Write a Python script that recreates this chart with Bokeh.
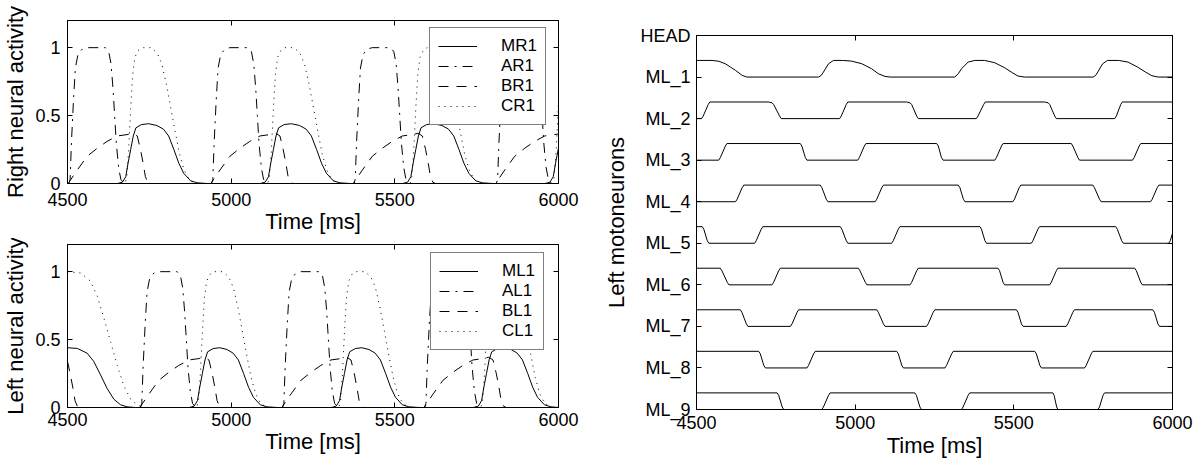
from bokeh.plotting import figure
from bokeh.models import (Range1d, FixedTicker, LinearAxis, Legend, LegendItem,
                          CustomJSTickFormatter, Grid)
from bokeh.layouts import row, column
from bokeh.embed import file_html
from bokeh.resources import INLINE

FONT = "Liberation Sans"
TICK_FS = "18px"
LEGEND_FS = "17px"
LABEL_FS = "22px"

TIME_TICKS = [4500, 5000, 5500, 6000]
ACT_TICKS = [0, 0.5, 1]
MN_TICKS = [0, 1, 2, 3, 4, 5, 6, 7, 8, 9]
MN_LABELS = ["ML_9", "ML_8", "ML_7", "ML_6", "ML_5", "ML_4", "ML_3", "ML_2", "ML_1", "HEAD"]

# ---------------- right neural activity (top-left panel) ----------------
MR1_T = [4500, 4653, 4668, 4678, 4685, 4693, 4701, 4709, 4726, 4748, 4773, 4793, 4809, 4825, 4840, 4855, 4876, 4896, 4927,
         5089, 5104, 5114, 5121, 5129, 5137, 5145, 5162, 5184, 5209, 5229, 5245, 5261, 5276, 5291, 5312, 5332, 5363,
         5524, 5539, 5549, 5556, 5564, 5572, 5580, 5597, 5619, 5644, 5664, 5680, 5696, 5711, 5726, 5747, 5767, 5798,
         5959, 5974, 5984, 5991, 5999, 6000]
MR1_Y = [0, 0, 0.01, 0.05, 0.15, 0.25, 0.35, 0.41, 0.434, 0.44, 0.427, 0.40, 0.35, 0.25, 0.15, 0.075, 0.02, 0.005, 0,
         0, 0.01, 0.05, 0.15, 0.25, 0.35, 0.41, 0.434, 0.44, 0.427, 0.40, 0.35, 0.25, 0.15, 0.075, 0.02, 0.005, 0,
         0, 0.01, 0.05, 0.15, 0.25, 0.35, 0.41, 0.434, 0.44, 0.427, 0.40, 0.35, 0.25, 0.15, 0.075, 0.02, 0.005, 0,
         0, 0.01, 0.05, 0.15, 0.25, 0.26]

AR1_T = [4500, 4504, 4508, 4512, 4518, 4524, 4532, 4545, 4560, 4616, 4626, 4633, 4639, 4644, 4649, 4656, 4663, 4673,
         4940, 4944, 4948, 4954, 4960, 4968, 4981, 4996, 5052, 5062, 5069, 5075, 5080, 5085, 5092, 5099, 5109,
         5375, 5379, 5383, 5389, 5395, 5403, 5416, 5431, 5487, 5497, 5504, 5510, 5515, 5520, 5527, 5534, 5544,
         5810, 5814, 5818, 5824, 5830, 5838, 5851, 5866, 5922, 5932, 5939, 5945, 5950, 5955, 5962, 5969, 5979, 6000]
AR1_Y = [0,
         0, 0.03, 0.3, 0.6, 0.85, 0.95, 0.99, 1, 1, 0.97, 0.88, 0.7, 0.5, 0.3, 0.12, 0.03, 0,
         0, 0.03, 0.3, 0.6, 0.85, 0.95, 0.99, 1, 1, 0.97, 0.88, 0.7, 0.5, 0.3, 0.12, 0.03, 0,
         0, 0.03, 0.3, 0.6, 0.85, 0.95, 0.99, 1, 1, 0.97, 0.88, 0.7, 0.5, 0.3, 0.12, 0.03, 0,
         0, 0.03, 0.3, 0.6, 0.85, 0.95, 0.99, 1, 1, 0.97, 0.88, 0.7, 0.5, 0.3, 0.12, 0.03, 0, 0]

BR1_T = [4500, 4502, 4530, 4560, 4591, 4621, 4652, 4682, 4700, 4713, 4723, 4731, 4738, 4745, 4753,
         4938, 4966, 4996, 5027, 5057, 5088, 5118, 5136, 5149, 5159, 5167, 5174, 5181, 5189,
         5373, 5401, 5431, 5462, 5492, 5523, 5553, 5571, 5584, 5594, 5602, 5609, 5616, 5624,
         5808, 5836, 5866, 5897, 5927, 5958, 5988, 6000]
BR1_Y = [0,
         0, 0.1, 0.2, 0.26, 0.31, 0.35, 0.36, 0.37, 0.35, 0.25, 0.15, 0.05, 0.01, 0,
         0, 0.1, 0.2, 0.26, 0.31, 0.35, 0.36, 0.37, 0.35, 0.25, 0.15, 0.05, 0.01, 0,
         0, 0.1, 0.2, 0.26, 0.31, 0.35, 0.36, 0.37, 0.35, 0.25, 0.15, 0.05, 0.01, 0,
         0, 0.1, 0.2, 0.26, 0.31, 0.35, 0.36, 0.365]

CR1_T = [4500, 4676, 4681, 4687, 4693, 4699, 4706, 4716, 4728, 4756, 4774, 4788, 4803, 4816, 4829, 4842, 4856, 4871, 4891,
         5112, 5117, 5123, 5129, 5135, 5142, 5152, 5164, 5192, 5210, 5224, 5239, 5252, 5265, 5278, 5292, 5307, 5327,
         5547, 5552, 5558, 5564, 5570, 5577, 5587, 5599, 5627, 5645, 5659, 5674, 5687, 5700, 5713, 5727, 5742, 5762,
         5982, 5987, 5993, 5999, 6000]
CR1_Y = [0,
         0, 0.05, 0.25, 0.55, 0.8, 0.93, 0.98, 1, 1, 0.96, 0.88, 0.72, 0.55, 0.38, 0.22, 0.1, 0.03, 0,
         0, 0.05, 0.25, 0.55, 0.8, 0.93, 0.98, 1, 1, 0.96, 0.88, 0.72, 0.55, 0.38, 0.22, 0.1, 0.03, 0,
         0, 0.05, 0.25, 0.55, 0.8, 0.93, 0.98, 1, 1, 0.96, 0.88, 0.72, 0.55, 0.38, 0.22, 0.1, 0.03, 0,
         0, 0.05, 0.25, 0.55, 0.6]

# ---------------- left neural activity (bottom-left panel) ----------------
ML1_T = [4500, 4530, 4560, 4580, 4601, 4621, 4642, 4662, 4682, 4705,
         4872, 4887, 4897, 4904, 4912, 4920, 4928, 4945, 4965, 4987, 5006, 5022, 5038, 5053, 5068, 5089, 5109, 5140,
         5306, 5321, 5331, 5338, 5346, 5354, 5362, 5379, 5399, 5421, 5440, 5456, 5472, 5487, 5502, 5523, 5543, 5574,
         5740, 5755, 5765, 5772, 5780, 5788, 5796, 5813, 5833, 5855, 5874, 5890, 5906, 5921, 5936, 5957, 5977, 6000]
ML1_Y = [0.44, 0.435, 0.40, 0.34, 0.24, 0.14, 0.06, 0.02, 0.005, 0,
         0, 0.01, 0.05, 0.15, 0.25, 0.35, 0.41, 0.434, 0.44, 0.427, 0.40, 0.35, 0.25, 0.15, 0.075, 0.02, 0.005, 0,
         0, 0.01, 0.05, 0.15, 0.25, 0.35, 0.41, 0.434, 0.44, 0.427, 0.40, 0.35, 0.25, 0.15, 0.075, 0.02, 0.005, 0,
         0, 0.01, 0.05, 0.15, 0.25, 0.35, 0.41, 0.434, 0.44, 0.427, 0.40, 0.35, 0.25, 0.15, 0.075, 0.02, 0.005, 0]

AL1_T = [4500, 4723, 4727, 4731, 4737, 4743, 4751, 4764, 4779, 4835, 4845, 4852, 4858, 4863, 4868, 4875, 4882, 4892,
         5157, 5161, 5165, 5171, 5177, 5185, 5198, 5213, 5269, 5279, 5286, 5292, 5297, 5302, 5309, 5316, 5326,
         5591, 5595, 5599, 5605, 5611, 5619, 5632, 5647, 5703, 5713, 5720, 5726, 5731, 5736, 5743, 5750, 5760, 6000]
AL1_Y = [0,
         0, 0.03, 0.3, 0.6, 0.85, 0.95, 0.99, 1, 1, 0.97, 0.88, 0.7, 0.5, 0.3, 0.12, 0.03, 0,
         0, 0.03, 0.3, 0.6, 0.85, 0.95, 0.99, 1, 1, 0.97, 0.88, 0.7, 0.5, 0.3, 0.12, 0.03, 0,
         0, 0.03, 0.3, 0.6, 0.85, 0.95, 0.99, 1, 1, 0.97, 0.88, 0.7, 0.5, 0.3, 0.12, 0.03, 0, 0]

BL1_T = [4500, 4508, 4516, 4523, 4530, 4538,
         4721, 4749, 4779, 4810, 4840, 4871, 4901, 4919, 4932, 4942, 4950, 4957, 4964, 4972,
         5155, 5183, 5213, 5244, 5274, 5305, 5335, 5353, 5366, 5376, 5384, 5391, 5398, 5406,
         5589, 5617, 5647, 5678, 5708, 5739, 5769, 5787, 5800, 5810, 5818, 5825, 5832, 5840, 6000]
BL1_Y = [0.34, 0.25, 0.15, 0.05, 0.01, 0,
         0, 0.1, 0.2, 0.26, 0.31, 0.35, 0.36, 0.37, 0.35, 0.25, 0.15, 0.05, 0.01, 0,
         0, 0.1, 0.2, 0.26, 0.31, 0.35, 0.36, 0.37, 0.35, 0.25, 0.15, 0.05, 0.01, 0,
         0, 0.1, 0.2, 0.26, 0.31, 0.35, 0.36, 0.37, 0.35, 0.25, 0.15, 0.05, 0.01, 0, 0]

CL1_T = [4500, 4540, 4570, 4591, 4611, 4632, 4652, 4672, 4693, 4713, 4730,
         4895, 4900, 4906, 4912, 4918, 4925, 4935, 4947, 4975, 4993, 5007, 5022, 5035, 5048, 5061, 5075, 5090, 5110,
         5329, 5334, 5340, 5346, 5352, 5359, 5369, 5381, 5409, 5427, 5441, 5456, 5469, 5482, 5495, 5509, 5524, 5544,
         5763, 5768, 5774, 5780, 5786, 5793, 5803, 5815, 5843, 5861, 5875, 5890, 5903, 5916, 5929, 5943, 5958, 5978, 6000]
CL1_Y = [1.0, 0.99, 0.93, 0.82, 0.66, 0.48, 0.31, 0.16, 0.06, 0.02, 0,
         0, 0.05, 0.25, 0.55, 0.8, 0.93, 0.98, 1, 1, 0.96, 0.88, 0.72, 0.55, 0.38, 0.22, 0.1, 0.03, 0,
         0, 0.05, 0.25, 0.55, 0.8, 0.93, 0.98, 1, 1, 0.96, 0.88, 0.72, 0.55, 0.38, 0.22, 0.1, 0.03, 0,
         0, 0.05, 0.25, 0.55, 0.8, 0.93, 0.98, 1, 1, 0.96, 0.88, 0.72, 0.55, 0.38, 0.22, 0.1, 0.03, 0, 0]

# ---------------- left motoneurons (right panel), activity 0..1 ----------------
MN1_T = [4500, 4549, 4570, 4591, 4607, 4623, 4644, 4659, 4885, 4893, 4900, 4916, 4932, 4960, 4989, 5021, 5052, 5073,
         5094, 5110, 5314, 5325, 5335, 5356, 5377, 5408, 5440, 5471, 5497, 5513, 5534, 5750, 5758, 5766, 5780, 5795,
         5830, 5860, 5890, 5915, 5935, 5955, 6000]
MN1_A = [1, 1, 0.95, 0.8, 0.6, 0.4, 0.1, 0, 0, 0.1, 0.3, 0.8, 1, 1, 0.96, 0.8, 0.5, 0.2,
         0.04, 0, 0, 0.2, 0.5, 0.9, 1, 1, 0.86, 0.56, 0.24, 0.06, 0, 0, 0.1, 0.35, 0.8, 1,
         1, 0.9, 0.6, 0.3, 0.08, 0, 0]

MN2_T = [4500, 4516, 4521, 4537, 4542, 4727, 4738, 4743, 4762, 4767, 4951, 4956, 4972, 4977, 5162, 5173, 5178, 5194,
         5199, 5382, 5387, 5405, 5410, 5597, 5608, 5613, 5629, 5634, 5818, 5823, 5837, 5842, 6000]
MN2_A = [0, 0, 0.15, 0.85, 1, 1, 0.95, 0.85, 0.15, 0, 0, 0.15, 0.85, 1, 1, 0.95, 0.85, 0.15,
         0, 0, 0.15, 0.85, 1, 1, 0.95, 0.85, 0.15, 0, 0, 0.15, 0.85, 1, 1]

MN3_T = [4500, 4570, 4575, 4591, 4596, 4827, 4832, 4843, 4848, 5008, 5013, 5029, 5034, 5257, 5262, 5272, 5277,
         5440, 5445, 5461, 5466, 5681, 5686, 5702, 5707, 5874, 5879, 5895, 5900, 6000]
MN3_A = [0, 0, 0.15, 0.85, 1, 1, 0.85, 0.15, 0, 0, 0.15, 0.85, 1, 1, 0.85, 0.15, 0,
         0, 0.15, 0.85, 1, 1, 0.85, 0.15, 0, 0, 0.15, 0.85, 1, 1]

MN4_T = [4500, 4623, 4628, 4644, 4649, 4890, 4895, 4909, 4914, 5063, 5068, 5084, 5089, 5325, 5330, 5341, 5346,
         5497, 5502, 5517, 5522, 5749, 5754, 5770, 5775, 5931, 5936, 5952, 5957, 6000]
MN4_A = [0, 0, 0.15, 0.85, 1, 1, 0.85, 0.15, 0, 0, 0.15, 0.85, 1, 1, 0.85, 0.15, 0,
         0, 0.15, 0.85, 1, 1, 0.85, 0.15, 0, 0, 0.15, 0.85, 1, 1]

MN5_T = [4500, 4518, 4523, 4534, 4539, 4683, 4688, 4704, 4709, 4953, 4958, 4972, 4977, 5115, 5120, 5136, 5141,
         5393, 5398, 5409, 5414, 5555, 5560, 5576, 5581, 5821, 5826, 5840, 5845, 5988, 5993, 6000]
MN5_A = [1, 1, 0.85, 0.15, 0, 0, 0.15, 0.85, 1, 1, 0.85, 0.15, 0, 0, 0.15, 0.85, 1,
         1, 0.85, 0.15, 0, 0, 0.15, 0.85, 1, 1, 0.85, 0.15, 0, 0, 0.15, 0.6]

MN6_T = [4500, 4575, 4580, 4597, 4602, 4738, 4743, 4759, 4764, 5010, 5015, 5032, 5037, 5173, 5178, 5194, 5199,
         5450, 5455, 5466, 5471, 5613, 5618, 5634, 5639, 5881, 5886, 5900, 5905, 6000]
MN6_A = [1, 1, 0.85, 0.15, 0, 0, 0.15, 0.85, 1, 1, 0.85, 0.15, 0, 0, 0.15, 0.85, 1,
         1, 0.85, 0.15, 0, 0, 0.15, 0.85, 1, 1, 0.85, 0.15, 0, 0]

MN7_T = [4500, 4638, 4643, 4657, 4662, 4796, 4801, 4817, 4822, 5068, 5073, 5089, 5094, 5225, 5230, 5246, 5251,
         5508, 5513, 5524, 5529, 5665, 5670, 5686, 5691, 5938, 5943, 5954, 5959, 6000]
MN7_A = [1, 1, 0.85, 0.15, 0, 0, 0.15, 0.85, 1, 1, 0.85, 0.15, 0, 0, 0.15, 0.85, 1,
         1, 0.85, 0.15, 0, 0, 0.15, 0.85, 1, 1, 0.85, 0.15, 0, 0]

MN8_T = [4500, 4696, 4701, 4712, 4717, 4848, 4853, 4869, 4874, 5131, 5136, 5147, 5152, 5283, 5288, 5304, 5309,
         5566, 5571, 5582, 5587, 5723, 5728, 5744, 5749, 6000]
MN8_A = [1, 1, 0.85, 0.15, 0, 0, 0.15, 0.85, 1, 1, 0.85, 0.15, 0, 0, 0.15, 0.85, 1,
         1, 0.85, 0.15, 0, 0, 0.15, 0.85, 1, 1]

MN9_T = [4500, 4754, 4759, 4770, 4775, 4895, 4900, 4916, 4921, 5188, 5193, 5204, 5209, 5335, 5340, 5356, 5361,
         5623, 5627, 5635, 5639, 5765, 5770, 5781, 5786, 6000]
MN9_A = [1, 1, 0.85, 0.15, 0, 0, 0.15, 0.85, 1, 1, 0.85, 0.15, 0, 0, 0.15, 0.85, 1,
         1, 0.85, 0.15, 0, 0, 0.15, 0.85, 1, 1]

MN_AMPLITUDE = 0.4

DASH_SOLID = "solid"
DASH_DASHDOT = "10 6 2 6"
DASH_DASHED = "10 8"
DASH_DOTTED = "1 5"


def make_axis(ticks, code, args=None, show=True, standoff=8, label=None, label_standoff=0):
    ax = LinearAxis(ticker=FixedTicker(ticks=ticks))
    ax.major_tick_in = 5
    ax.major_tick_out = 0
    ax.minor_tick_in = 0
    ax.minor_tick_out = 0
    ax.minor_tick_line_color = None
    ax.axis_line_color = "black"
    ax.axis_line_width = 1
    ax.major_tick_line_color = "black"
    ax.major_label_text_font = FONT
    ax.major_label_text_color = "black"
    if show:
        ax.formatter = CustomJSTickFormatter(args=args or {}, code=code)
        ax.major_label_text_font_size = TICK_FS
        ax.major_label_standoff = standoff
    else:
        ax.formatter = CustomJSTickFormatter(code="return '';")
        ax.major_label_text_font_size = "0px"
        ax.major_label_standoff = 0
    if label:
        ax.axis_label = label
        ax.axis_label_text_font = FONT
        ax.axis_label_text_font_size = LABEL_FS
        ax.axis_label_text_font_style = "normal"
        ax.axis_label_text_color = "black"
        ax.axis_label_standoff = label_standoff
    return ax


NUM_CODE = "return tick.toString();"


def new_fig(width, height, bl, br, bt, bb, ymax):
    p = figure(width=width, height=height,
               x_range=Range1d(4500, 6000), y_range=Range1d(0, ymax),
               output_backend="svg", toolbar_location=None,
               x_axis_location=None, y_axis_location=None,
               min_border_left=bl, min_border_right=br,
               min_border_top=bt, min_border_bottom=bb)
    p.outline_line_color = "black"
    p.outline_line_width = 1
    p.background_fill_color = "white"
    p.border_fill_color = "white"
    for g in p.select(type=Grid):
        g.visible = False
        g.grid_line_color = None
    return p


def activity_panel(height, bt, bb, ylabel, series, legend_loc, x_standoff, xl_standoff):
    p = new_fig(600, height, 67, 42, bt, bb, 1.2)
    p.add_layout(make_axis(TIME_TICKS, NUM_CODE, standoff=x_standoff,
                           label="Time [ms]", label_standoff=xl_standoff), "below")
    p.add_layout(make_axis(ACT_TICKS, NUM_CODE, standoff=7,
                           label=ylabel, label_standoff=4), "left")
    p.add_layout(make_axis(TIME_TICKS, "", show=False), "above")
    p.add_layout(make_axis(ACT_TICKS, "", show=False), "right")
    items = []
    for name, t, y, dash in series:
        r = p.line(t, y, line_color="black", line_width=1, line_dash=dash)
        items.append(LegendItem(label=name, renderers=[r]))
    legend = Legend(items=items, location=legend_loc,
                    border_line_color="black", border_line_width=1,
                    background_fill_color="white", background_fill_alpha=1,
                    label_text_font=FONT, label_text_font_size=LEGEND_FS,
                    label_text_color="black",
                    glyph_width=39, glyph_height=18, label_height=18,
                    label_standoff=24, spacing=-2, padding=8, margin=0)
    p.add_layout(legend)
    return p


p_right_act = activity_panel(
    238, 20, 55, "Right neural activity",
    [("MR1", MR1_T, MR1_Y, DASH_SOLID),
     ("AR1", AR1_T, AR1_Y, DASH_DASHDOT),
     ("BR1", BR1_T, BR1_Y, DASH_DASHED),
     ("CR1", CR1_T, CR1_Y, DASH_DOTTED)],
    (362, 58), 9, 0)

p_left_act = activity_panel(
    224, 6, 55, "Left neural activity",
    [("ML1", ML1_T, ML1_Y, DASH_SOLID),
     ("AL1", AL1_T, AL1_Y, DASH_DASHDOT),
     ("BL1", BL1_T, BL1_Y, DASH_DASHED),
     ("CL1", CL1_T, CL1_Y, DASH_DOTTED)],
    (363, 57), 5, 0)

# right panel: motoneurons
p_mn = new_fig(597, 462, 96, 25, 35, 53, 9)
p_mn.add_layout(make_axis(TIME_TICKS, NUM_CODE, standoff=6,
                          label="Time [ms]", label_standoff=1), "below")
p_mn.add_layout(make_axis(MN_TICKS, "return labels[Math.round(tick)];",
                          args=dict(labels=MN_LABELS), standoff=6,
                          label="Left motoneurons", label_standoff=8), "left")
p_mn.add_layout(make_axis(TIME_TICKS, "", show=False), "above")
p_mn.add_layout(make_axis(MN_TICKS, "", show=False), "right")

mn_series = [(MN1_T, MN1_A), (MN2_T, MN2_A), (MN3_T, MN3_A), (MN4_T, MN4_A), (MN5_T, MN5_A),
             (MN6_T, MN6_A), (MN7_T, MN7_A), (MN8_T, MN8_A), (MN9_T, MN9_A)]
for k, (t, a) in enumerate(mn_series, start=1):
    offset = 9 - k
    p_mn.line(t, [offset + MN_AMPLITUDE * v for v in a], line_color="black", line_width=1)

layout = row(column(p_right_act, p_left_act), p_mn)

open("out.html", "w").write(file_html(layout, INLINE))
